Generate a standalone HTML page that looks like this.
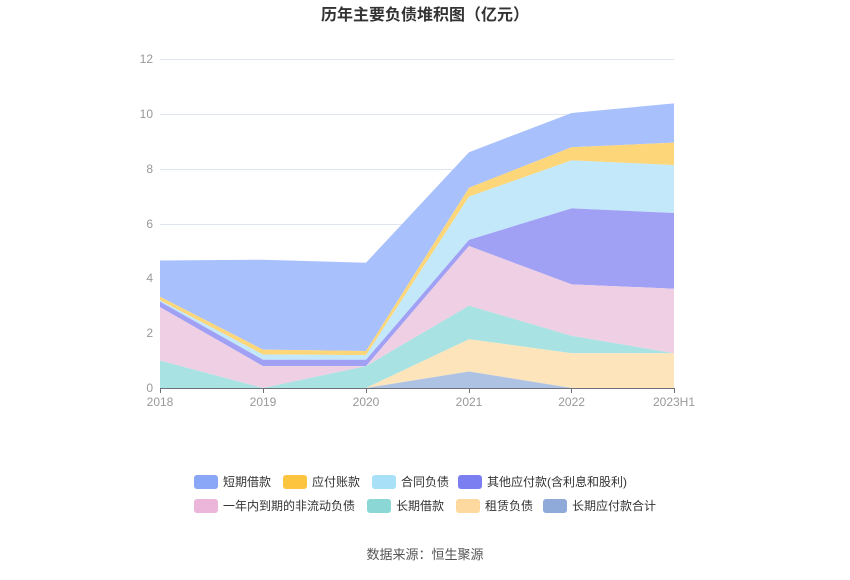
<!DOCTYPE html>
<html><head><meta charset="utf-8"><style>
body{margin:0;background:#fff;}
svg text{font-family:"Liberation Sans","Noto Sans CJK SC",sans-serif;}
</style></head><body>
<svg width="850" height="575" xmlns="http://www.w3.org/2000/svg">
<text x="425" y="20" text-anchor="middle" font-size="16" font-weight="bold" fill="#333">历年主要负债堆积图（亿元）</text>
<g stroke="#e0e6f1" stroke-width="1">
<line x1="160" x2="674" y1="59.5" y2="59.5"/><line x1="160" x2="674" y1="114.5" y2="114.5"/>
<line x1="160" x2="674" y1="169.5" y2="169.5"/><line x1="160" x2="674" y1="224.5" y2="224.5"/>
<line x1="160" x2="674" y1="278.5" y2="278.5"/><line x1="160" x2="674" y1="333.5" y2="333.5"/>
</g>
<g font-size="12" fill="#999" text-anchor="end">
<text x="153" y="392">0</text><text x="153" y="337">2</text><text x="153" y="282">4</text>
<text x="153" y="228">6</text><text x="153" y="173">8</text><text x="153" y="118">10</text><text x="153" y="63">12</text>
</g>
<!-- stacked areas: y = 388 - v*27.42 -->
<polygon fill="#a8c0fc" points="160,260.5 263,259.7 366,262.7 469,152.2 571.6,113 674,103.4 674,142.6 571.6,147.3 469,187.8 366,351 263,349.6 160,296.7"/>
<polygon fill="#fdd679" points="160,296.7 263,349.6 366,351 469,187.8 571.6,147.3 674,142.6 674,165.1 571.6,160.4 469,196.6 366,355.1 263,354.5 160,300.3"/>
<polygon fill="#c2e8fa" points="160,300.3 263,354.5 366,355.1 469,196.6 571.6,160.4 674,165.1 674,213 571.6,208.4 469,239.9 366,359.8 263,359.8 160,301.6"/>
<polygon fill="#a0a0f5" points="160,301.6 263,359.8 366,359.8 469,239.9 571.6,208.4 674,213 674,288.7 571.6,284.4 469,246 366,366.1 263,366.1 160,307.1"/>
<polygon fill="#efcfe3" points="160,307.1 263,366.1 366,366.1 469,246 571.6,284.4 674,288.7 674,353.2 571.6,335.9 469,305.7 366,366.1 263,388 160,360.6"/>
<polygon fill="#a8e2e2" points="160,360.6 263,388 366,366.1 469,305.7 571.6,335.9 674,353.2 674,353.2 571.6,353.2 469,339.2 366,388 263,388 160,388"/>
<polygon fill="#fde4bb" points="366,388 469,339.2 571.6,353.2 674,353.2 674,388 571.6,388 469,371.5 366,388"/>
<polygon fill="#aec3e4" points="366,388 469,371.5 571.6,388"/>
<line x1="160" x2="674" y1="388.5" y2="388.5" stroke="#6e7079"/>
<g stroke="#6e7079"><line x1="160.5" x2="160.5" y1="388" y2="393"/><line x1="263.5" x2="263.5" y1="388" y2="393"/><line x1="366.5" x2="366.5" y1="388" y2="393"/><line x1="469.5" x2="469.5" y1="388" y2="393"/><line x1="571.5" x2="571.5" y1="388" y2="393"/><line x1="674.5" x2="674.5" y1="388" y2="393"/></g>
<g font-size="12" fill="#999" text-anchor="middle">
<text x="160" y="406">2018</text><text x="263" y="406">2019</text><text x="366" y="406">2020</text>
<text x="469" y="406">2021</text><text x="571.6" y="406">2022</text><text x="674" y="406">2023H1</text>
</g>
<g font-size="12" fill="#333">
<rect x="194" y="475" width="24" height="14" rx="3" fill="#8aa6f7"/><text x="223" y="486">短期借款</text>
<rect x="283" y="475" width="24" height="14" rx="3" fill="#fdc43f"/><text x="312" y="486">应付账款</text>
<rect x="372" y="475" width="24" height="14" rx="3" fill="#a8e0f8"/><text x="401" y="486">合同负债</text>
<rect x="458" y="475" width="24" height="14" rx="3" fill="#7b7ef0"/><text x="487" y="486">其他应付款(含利息和股利)</text>
<rect x="194" y="499" width="24" height="14" rx="3" fill="#ebb6da"/><text x="223" y="510">一年内到期的非流动负债</text>
<rect x="367" y="499" width="24" height="14" rx="3" fill="#8ad7d6"/><text x="396" y="510">长期借款</text>
<rect x="456" y="499" width="24" height="14" rx="3" fill="#fdd9a0"/><text x="485" y="510">租赁负债</text>
<rect x="543" y="499" width="24" height="14" rx="3" fill="#8fa9d8"/><text x="572" y="510">长期应付款合计</text>
</g>
<text x="425" y="559" text-anchor="middle" font-size="13" fill="#555">数据来源：恒生聚源</text>
</svg>
</body></html>
